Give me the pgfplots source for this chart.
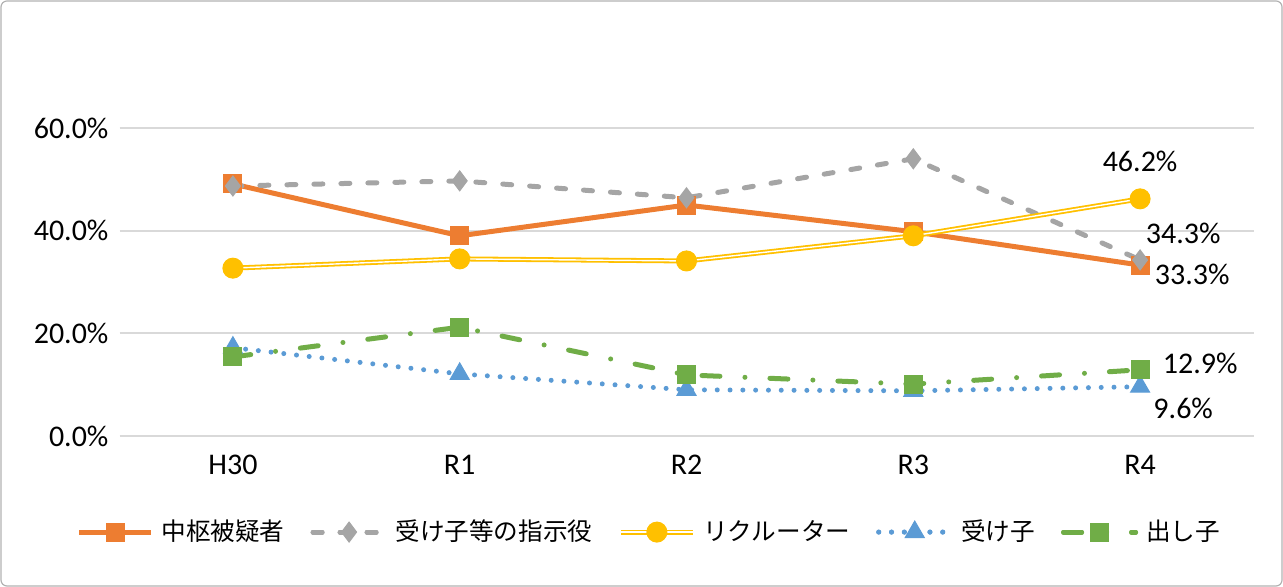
\documentclass[border=0pt]{standalone}
\usepackage{pgfplots}
\pgfplotsset{compat=1.18}
\usepackage{fontspec}
\setmainfont{Carlito}
\newfontfamily\jp{Noto Sans CJK JP}
\definecolor{orangec}{HTML}{ED7D31}
\definecolor{grayc}{HTML}{A5A5A5}
\definecolor{yellowc}{HTML}{FFC000}
\definecolor{bluec}{HTML}{5B9BD5}
\definecolor{greenc}{HTML}{70AD47}
\definecolor{gridc}{HTML}{D9D9D9}
\begin{document}
\begin{tikzpicture}
\useasboundingbox (0,0) rectangle (641.5pt,293.5pt);
\draw[gray!60, line width=0.6pt, rounded corners=3pt] (0.5pt,0.5pt) rectangle (641pt,293pt);
\begin{axis}[
  at={(59.75pt,75.5pt)}, anchor=south west,
  scale only axis, width=567pt, height=205.33pt,
  xmin=-0.5, xmax=4.5, ymin=0, ymax=80,
  axis line style={draw=none},
  xtick={0,1,2,3,4},
  xticklabels={H30,R1,R2,R3,R4},
  ytick={0,20,40,60},
  yticklabels={0.0\%,20.0\%,40.0\%,60.0\%},
  tick style={draw=none},
  ymajorgrids, grid style={gridc, line width=1pt},
  tick label style={font=\fontsize{15}{18}\selectfont},
  xticklabel style={yshift=-6pt},
  yticklabel style={xshift=-2pt},
  /pgf/number format/assume math mode=true,
  legend columns=5,
  legend style={at={(0.468,-0.234)}, anchor=center, draw=none,
    font=\jp\fontsize{12.3}{14}\selectfont, column sep=2pt},
  legend image code/.code={
    \draw[#1] (0pt,0pt) -- (36pt,0pt);
    \draw[#1, mark repeat=2, mark phase=2] plot coordinates {(0pt,0pt) (18pt,0pt) (36pt,0pt)};
  },
  /tikz/every even column/.append style={column sep=11pt},
  clip=false,
]
\addplot[orangec, line width=2.5pt, mark=square*, mark size=4.5pt, mark options={solid, line width=0.5pt}]
  coordinates {(0,49.1) (1,39.0) (2,45.0) (3,39.8) (4,33.3)};
\addlegendentry{中枢被疑者}
\addplot[grayc, line width=2.5pt, line cap=round, dash pattern=on 4.5pt off 9pt, mark=diamond*, mark size=5pt, mark options={solid, line width=0.5pt}]
  coordinates {(0,48.7) (1,49.7) (2,46.4) (3,54.0) (4,34.3)};
\addlegendentry{受け子等の指示役}
\addplot[yellowc, line width=0.9pt, double=white, double distance=0.7pt, mark=*, mark size=5pt, mark options={solid, line width=0.5pt, fill=yellowc}]
  coordinates {(0,32.7) (1,34.5) (2,34.1) (3,39.0) (4,46.2)};
\addlegendentry{リクルーター}
\addplot[bluec, line width=2.5pt, line cap=round, dash pattern=on 0pt off 6.4pt, mark=triangle*, mark size=5.5pt, mark options={solid, line width=0.5pt}]
  coordinates {(0,17.2) (1,12.1) (2,9.0) (3,8.8) (4,9.6)};
\addlegendentry{受け子}
\addplot[greenc, line width=2.5pt, line cap=round, dash pattern=on 9pt off 12.5pt on 0pt off 12.5pt, mark=square*, mark size=4.5pt, mark options={solid, line width=0.5pt}]
  coordinates {(0,15.4) (1,21.2) (2,11.9) (3,10.1) (4,12.9)};
\addlegendentry{出し子}
\begin{scope}[every node/.style={font=\fontsize{15}{18}\selectfont, inner sep=0pt}]
\node at (axis cs:4,53.4) {46.2\%};
\node at (axis cs:4.19,39.4) {34.3\%};
\node at (axis cs:4.23,31.5) {33.3\%};
\node at (axis cs:4.265,14.2) {12.9\%};
\node at (axis cs:4.19,5.3) {9.6\%};
\end{scope}
\end{axis}
\end{tikzpicture}
\end{document}
